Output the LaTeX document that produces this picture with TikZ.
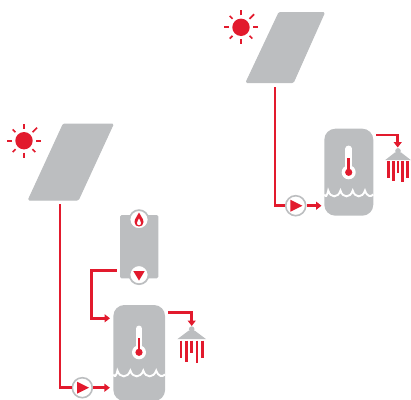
\documentclass[tikz,border=0pt]{standalone}
\usetikzlibrary{arrows.meta,calc}
\definecolor{hotred}{HTML}{E21A2D}
\definecolor{steel}{HTML}{BCBEC0}
\tikzset{
  pipe/.style={draw=hotred,line width=2.6pt},
  pipearrow/.style={pipe,-{Triangle[length=5.5pt,width=8pt]}},
  tankbox/.style={fill=steel,rounded corners=11pt,inner sep=0pt},
  boilerbox/.style={fill=steel,rounded corners=1.5pt,inner sep=0pt},
  pumpdisc/.style={circle,draw=steel,fill=white,line width=1.6pt,minimum size=20pt,inner sep=0pt},
  portdisc/.style={circle,draw=steel,fill=white,line width=1.7pt,minimum size=19pt,inner sep=0pt},
  panelshape/.style={fill=steel,draw=steel,line width=1pt,line join=round,rounded corners=1.2pt},
  ray/.style={draw=hotred,line width=1.7pt},
  wave/.style={draw=white,line width=1.9pt},
}
\newcommand{\Sun}[2]{\begin{scope}[shift={(#1,#2)}]
  \fill[hotred] (0,0) circle (8.7pt);
  \foreach \a/\r in {0/17,45/18.5,90/17,135/16,180/17,225/16,270/17,315/16}
    \draw[ray] (\a:12pt) -- (\a:\r pt);
\end{scope}}
\newcommand{\Thermo}[2]{\begin{scope}[shift={(#1,#2)}]
  \draw[white,line width=6.5pt,line cap=round] (0,0) -- (0,-23.5);
  \fill[white] (0,0) circle (7pt);
  \draw[hotred,line width=2.6pt] (0,0) -- (0,-14);
  \fill[hotred] (0,0) circle (3.6pt);
\end{scope}}
\newcommand{\Waves}[3]{\begin{scope}[shift={(#1,#2)}]
  \pgfmathsetmacro{\u}{#3/4.0}
  \draw[wave] (0,-1)
    .. controls (.12*\u,1.5) and (.2*\u,1.5) .. (.32*\u,-5)
    .. controls (.5*\u,2.8) and (1.12*\u,2.8) .. (1.32*\u,-5)
    .. controls (1.5*\u,2.8) and (2.12*\u,2.8) .. (2.32*\u,-5)
    .. controls (2.5*\u,2.8) and (3.12*\u,2.8) .. (3.32*\u,-5)
    .. controls (3.5*\u,1.5) and (3.8*\u,1.5) .. (4*\u,-1);
\end{scope}}
\newcommand{\Shower}[7]{\begin{scope}[shift={(#1,#2)}]
  \fill[steel] (0,0.5) circle (2.8pt);
  \fill[steel] (-14.3,10.5) -- (-3,2) -- (3,2) -- (14.3,10.5) -- cycle;
  \foreach \dx/\b in {-10.8/#3,-5.4/#4,0/#5,5.4/#6,10.8/#7}
    \draw[hotred,line width=2.6pt] (\dx,12) -- (\dx,\b);
\end{scope}}
\begin{document}
\begin{tikzpicture}[x=1pt,y=-1pt]
\useasboundingbox (0,0) rectangle (411,399);
% ---------- left system
\Sun{24}{140.7}
\fill[panelshape] (63.3,124) -- (113.3,124) -- (78.3,200) -- (28.3,200) -- cycle;
\coordinate (footL) at (60,204);
\node[tankbox,minimum width=51.7pt,minimum height=96pt] (tankL) at (139.2,353) {};
\Thermo{139}{352.3}
\Waves{113.3}{375.5}{51.7}
\node[pumpdisc] (pumpL) at (82.3,387.7) {};
\fill[hotred] (77,381.7) -- (89,387.7) -- (77,393.7) -- cycle;
\draw[pipe] (footL) |- (pumpL.west);
\coordinate (inL) at (tankL.west |- pumpL);
\draw[pipearrow,shorten >=3.3pt] (pumpL.east) -- (inL);
\node[boilerbox,minimum width=38.3pt,minimum height=63.3pt] (boiler) at (139.2,246.7) {};
\node[portdisc] (flame) at (139,219.6) {};
\fill[hotred] (139,212.5) .. controls (140,216) and (143.5,218) .. (143.5,222)
  .. controls (143.5,225) and (141.5,226.5) .. (139,226.5)
  .. controls (136.5,226.5) and (134.5,225) .. (134.5,222)
  .. controls (134.5,218) and (138,216) .. (139,212.5) -- cycle;
\fill[white] (139,218.5) .. controls (139.8,220.5) and (141,221.5) .. (141,223)
  .. controls (141,224.6) and (140,225.2) .. (139,225.2)
  .. controls (138,225.2) and (137,224.6) .. (137,223)
  .. controls (137,221.5) and (138.2,220.5) .. (139,218.5) -- cycle;
\node[portdisc] (valve) at (139,274.7) {};
\fill[hotred] (133.3,271) -- (144.7,271) -- (139,280.5) -- cycle;
\coordinate (boilerOut) at (116.7,270.3);
\coordinate (tankInL) at (113.3,318.3);
\draw[pipearrow,shorten >=3.3pt] (boilerOut) -- ++(-25,0) |- (tankInL);
\coordinate (tankOutL) at (168.3,312.7);
\coordinate (showerInL) at (191.7,326);
\draw[pipearrow] (tankOutL) -| (showerInL);
\Shower{191.7}{328.6}{29.4}{33.1}{24.7}{34.1}{29.4}
% ---------- right system
\Sun{241}{27.3}
\fill[panelshape] (279,12.5) -- (324.5,12.5) -- (293.3,82.5) -- (246,82.5) -- cycle;
\coordinate (footR) at (275,87);
\node[tankbox,minimum width=49pt,minimum height=87pt] (tankR) at (348.8,172.2) {};
\Thermo{348.7}{172.3}
\Waves{324.3}{195.5}{49}
\node[pumpdisc] (pumpR) at (295.7,205.7) {};
\fill[hotred] (290.4,199.7) -- (302.4,205.7) -- (290.4,211.7) -- cycle;
\draw[pipe] (footR) |- (pumpR.west);
\coordinate (inR) at (tankR.west |- pumpR);
\draw[pipearrow,shorten >=2.6pt] (pumpR.east) -- (inR);
\coordinate (tankOutR) at (376,135);
\coordinate (showerInR) at (397.7,147.5);
\draw[pipearrow] (tankOutR) -| (showerInR);
\begin{scope}[shift={(398,150.4)}]
  \fill[steel] (0,0.5) circle (2.8pt);
  \fill[steel] (-13,9.8) -- (-3,2) -- (3,2) -- (13,9.8) -- cycle;
  \foreach \dx/\b in {-9.7/28,-4.7/30.6,0/23,4.7/32,9.4/27.3}
    \draw[hotred,line width=2.6pt] (\dx,11) -- (\dx,\b);
\end{scope}
\end{tikzpicture}
\end{document}
